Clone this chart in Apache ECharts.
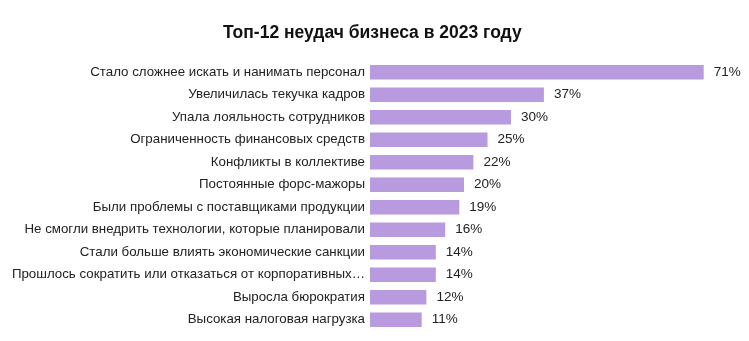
<!DOCTYPE html>
<html>
<head>
<meta charset="utf-8">
<script src="https://cdn.jsdelivr.net/npm/echarts@6/dist/echarts.min.js"></script>
<style>
  html, body { margin: 0; padding: 0; background: #fff; }
  #chart { width: 749px; height: 341px; }
</style>
</head>
<body>
<div id="chart"></div>
<script>
const titleText = 'Топ-12 неудач бизнеса в 2023 году';
const categories = [
  'Стало сложнее искать и нанимать персонал',
  'Увеличилась текучка кадров',
  'Упала лояльность сотрудников',
  'Ограниченность финансовых средств',
  'Конфликты в коллективе',
  'Постоянные форс-мажоры',
  'Были проблемы с поставщиками продукции',
  'Не смогли внедрить технологии, которые планировали',
  'Стали больше влиять экономические санкции',
  'Прошлось сократить или отказаться от корпоративных…',
  'Выросла бюрократия',
  'Высокая налоговая нагрузка'
];
const values = [71, 37, 30, 25, 22, 20, 19, 16, 14, 14, 12, 11];

const font = '"Liberation Sans", Arial, sans-serif';
const chart = echarts.init(document.getElementById('chart'));
chart.setOption({
  animation: false,
  title: {
    text: titleText,
    left: 218,
    top: 19,
    textStyle: { fontFamily: font, fontSize: 17.5, fontWeight: 'bold', color: '#111' }
  },
  grid: { left: 370, top: 61, width: 376, height: 270, containLabel: false, outerBoundsMode: 'none' },
  xAxis: {
    type: 'value', min: 0, max: 80, show: false
  },
  yAxis: {
    type: 'category',
    inverse: true,
    data: categories,
    axisLine: { show: false },
    axisTick: { show: false },
    axisLabel: {
      margin: 5,
      fontFamily: font,
      fontSize: 13.3,
      color: '#222'
    }
  },
  series: [{
    type: 'bar',
    data: values,
    barWidth: '65%',
    itemStyle: { color: '#b89ade' },
    label: {
      show: true,
      position: 'right',
      distance: 10,
      formatter: '{c}%',
      fontFamily: font,
      fontSize: 13.5,
      color: '#222'
    }
  }]
});
</script>
</body>
</html>
